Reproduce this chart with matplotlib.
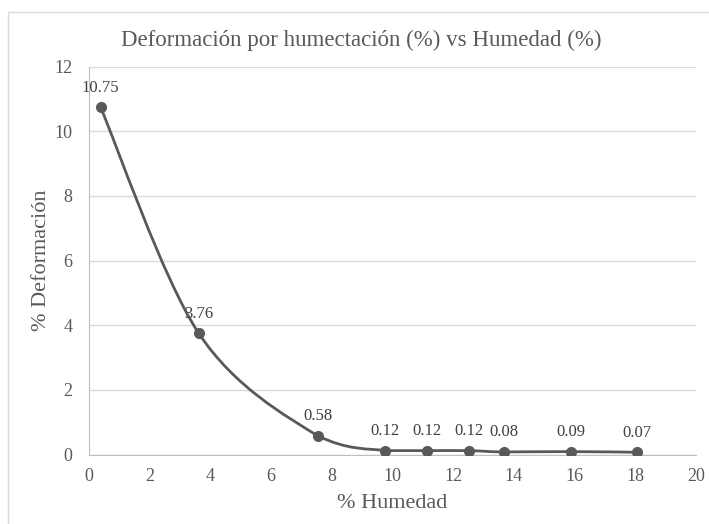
import numpy as np
import matplotlib; matplotlib.use("Agg")
import matplotlib.pyplot as plt
from matplotlib.path import Path
from matplotlib.patches import PathPatch, Rectangle

# data
humedad = [0.38, 3.61, 7.53, 9.76, 11.15, 12.51, 13.67, 15.87, 18.05]
deform = [10.75, 3.76, 0.58, 0.12, 0.12, 0.12, 0.08, 0.09, 0.07]
etiquetas = ["10.75", "3.76", "0.58", "0.12", "0.12", "0.12", "0.08", "0.09", "0.07"]
xticks = [0, 2, 4, 6, 8, 10, 12, 14, 16, 18, 20]
yticks = [0, 2, 4, 6, 8, 10, 12]

TXT = "#595959"; LINE = "#595959"; GRID = "#d9d9d9"
plt.rcParams["font.family"] = ["Liberation Serif", "DejaVu Serif"]

fig = plt.figure(figsize=(7.09, 5.24), dpi=100)
fig.patch.set_facecolor("white")
ax = fig.add_axes([0.1255, 0.1326, 0.8562, 0.7401])

# outer chart border (runs off the right and bottom edges)
fig.patches.append(Rectangle((8/709, -0.1), 1.2, 1.1 - 12/524, transform=fig.transFigure,
                             fill=False, edgecolor="#d9d9d9", lw=1))

# smooth line like Excel (cubic bezier, tension 1/6)
P = np.column_stack([humedad, deform])
verts = [tuple(P[0])]; codes = [Path.MOVETO]
n = len(P)
for i in range(n - 1):
    p0 = P[i - 1] if i > 0 else P[i]
    p1, p2 = P[i], P[i + 1]
    p3 = P[i + 2] if i + 2 < n else P[i + 1]
    c1 = p1 + (p2 - p0) / 6.0
    c2 = p2 - (p3 - p1) / 6.0
    c1[1] = max(c1[1], min(p1[1], p2[1]))   # keep the flat tail from dipping
    c2[1] = max(c2[1], min(p1[1], p2[1]))
    verts += [tuple(c1), tuple(c2), tuple(p2)]
    codes += [Path.CURVE4] * 3
ax.add_patch(PathPatch(Path(verts, codes), fill=False, edgecolor=LINE, lw=2, zorder=3))
ax.plot(humedad, deform, "o", color=LINE, ms=7, zorder=4)

for x, y, s in zip(humedad, deform, etiquetas):
    ax.annotate(s, (x, y), xytext=(0, 14), textcoords="offset points", ha="center", va="center",
                fontsize=12, color="#404040")

ax.set_xlim(0, 20); ax.set_ylim(0, 12)
ax.set_xticks(xticks); ax.set_yticks(yticks)
ax.grid(axis="y", color=GRID, lw=1)
ax.set_axisbelow(True)
for s in ("top", "right"):
    ax.spines[s].set_visible(False)
ax.spines["left"].set_color("#bfbfbf")
ax.spines["bottom"].set_color("#bfbfbf")
ax.tick_params(length=0, labelsize=13, labelcolor=TXT)
ax.tick_params(axis="x", pad=10)
ax.tick_params(axis="y", pad=12)
ax.set_xlabel("% Humedad", fontsize=16, color=TXT, labelpad=6)
ax.set_ylabel("% Deformación", fontsize=16, color=TXT, labelpad=2)
fig.text(361/709, 1 - 40/524, "Deformación por humectación (%) vs Humedad (%)", ha="center", va="center",
         fontsize=16.5, color=TXT)

fig.savefig("out.png", dpi=100, facecolor="white")
